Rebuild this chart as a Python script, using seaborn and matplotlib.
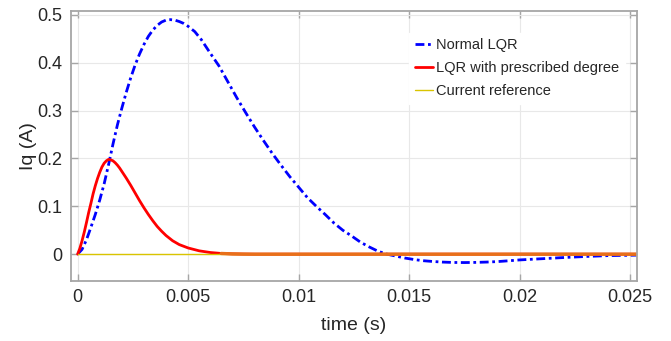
import numpy as np
import pandas as pd
import matplotlib
matplotlib.use("Agg")
import matplotlib.pyplot as plt
import seaborn as sns

# Normal LQR (blue, dash-dot)
t_normal = [0, 0.0002, 0.0004, 0.0006, 0.0008, 0.001, 0.0012, 0.0014, 0.0016, 0.0018,
            0.002, 0.0022, 0.0024, 0.0026, 0.0028, 0.003, 0.0032, 0.0034, 0.0036, 0.0038,
            0.004, 0.0042, 0.0044, 0.0046, 0.0048, 0.005, 0.0053, 0.0056, 0.006, 0.0064,
            0.0068, 0.0072, 0.0076, 0.008, 0.0084, 0.0088, 0.0092, 0.0096, 0.01, 0.0104,
            0.0108, 0.0112, 0.0116, 0.012, 0.0124, 0.0128, 0.0132, 0.0136, 0.014, 0.0144,
            0.0148, 0.0152, 0.0156, 0.016, 0.0165, 0.017, 0.0175, 0.018, 0.0185, 0.019,
            0.0195, 0.02, 0.021, 0.022, 0.023, 0.024, 0.0253]
iq_normal = [0, 0.01, 0.03, 0.056, 0.083, 0.113, 0.147, 0.187, 0.23, 0.27,
             0.305, 0.338, 0.368, 0.395, 0.418, 0.438, 0.455, 0.468, 0.478, 0.485,
             0.489, 0.49, 0.489, 0.486, 0.482, 0.476, 0.465, 0.448, 0.42, 0.393,
             0.36, 0.327, 0.296, 0.266, 0.238, 0.211, 0.186, 0.162, 0.14, 0.118,
             0.1, 0.083, 0.065, 0.05, 0.038, 0.025, 0.015, 0.006, 0.0, -0.004,
             -0.008, -0.011, -0.0135, -0.015, -0.0165, -0.0173, -0.0175, -0.0172, -0.0165, -0.0155,
             -0.0138, -0.012, -0.0095, -0.007, -0.0048, -0.003, -0.002]

# LQR with prescribed degree (red)
t_presc = [0, 0.0001, 0.0002, 0.0003, 0.0004, 0.0005, 0.0006, 0.0007, 0.0008, 0.0009,
           0.001, 0.0011, 0.0012, 0.0013, 0.0014, 0.0015, 0.0016, 0.0017, 0.0018, 0.0019,
           0.002, 0.0022, 0.0024, 0.0026, 0.0028, 0.003, 0.0032, 0.0034, 0.0036, 0.0038,
           0.004, 0.0043, 0.0046, 0.005, 0.0055, 0.006, 0.0065, 0.007, 0.0075, 0.008,
           0.01, 0.015, 0.02, 0.0253]
iq_presc = [0, 0.012, 0.028, 0.046, 0.066, 0.087, 0.106, 0.126, 0.143, 0.158,
            0.171, 0.182, 0.19, 0.195, 0.198, 0.197, 0.195, 0.191, 0.186, 0.18,
            0.173, 0.159, 0.144, 0.128, 0.112, 0.097, 0.083, 0.07, 0.058, 0.048,
            0.039, 0.028, 0.02, 0.013, 0.007, 0.0035, 0.0015, 0.0006, 0.0002, 0.0,
            0.0, 0.0, 0.0, 0.0]

# Current reference (yellow)
t_ref = [0, 0.0253]
iq_ref = [0, 0]

sns.set_theme(style="whitegrid")
plt.rcParams['font.family'] = ['Liberation Sans', 'DejaVu Sans']

fig = plt.figure(figsize=(6.71, 3.41), dpi=100)
ax = fig.add_axes([0.1058, 0.176, 0.8435, 0.7917])

sns.lineplot(x=t_normal, y=iq_normal, ax=ax, color='#0000ff', lw=2.0,
             label='Normal LQR', sort=False, estimator=None)
ax.lines[-1].set_dashes((3.2, 1.3, 1, 1.3))
sns.lineplot(x=t_presc, y=iq_presc, ax=ax, color='#ff0000', lw=2.0,
             label='LQR with prescribed degree', sort=False, estimator=None)
sns.lineplot(x=t_ref, y=iq_ref, ax=ax, color='#d9c400', lw=1.0,
             label='Current reference', sort=False, estimator=None)
# overlap tint where red and reference coincide
ax.plot(t_presc[36:], iq_presc[36:], color='#e8701a', lw=2.4, zorder=2.5)

ax.set_xlim(-0.0003, 0.02531)
ax.set_ylim(-0.056, 0.508)
ax.set_xticks([0, 0.005, 0.01, 0.015, 0.02, 0.025])
ax.set_xticklabels(['0', '0.005', '0.01', '0.015', '0.02', '0.025'])
ax.set_yticks([0, 0.1, 0.2, 0.3, 0.4, 0.5])
ax.set_yticklabels(['0', '0.1', '0.2', '0.3', '0.4', '0.5'])

ax.grid(True, color='#e8e8e8', lw=0.8)
for s in ax.spines.values():
    s.set_visible(True)
    s.set_color('#a6a6a6')
    s.set_linewidth(1.3)
ax.tick_params(axis='both', which='both', labelsize=13, colors='#262626',
               length=5, width=1, direction='in', pad=6,
               top=True, right=True, bottom=True, left=True)
ax.tick_params(axis='both', color='#a6a6a6')

ax.set_xlabel('time (s)', fontsize=14, color='#262626', labelpad=8)
ax.set_ylabel('Iq (A)', fontsize=14, color='#262626', labelpad=0.5)

leg = ax.legend(loc='upper left', bbox_to_anchor=(0.598, 0.92), borderaxespad=0,
                fontsize=10.5, frameon=True, facecolor='white', edgecolor='white',
                framealpha=1, fancybox=False, handlelength=1.2, handletextpad=0.2,
                labelspacing=0.6, borderpad=0.4)
for txt in leg.get_texts():
    txt.set_color('#262626')

fig.savefig('out.png', dpi=100)
